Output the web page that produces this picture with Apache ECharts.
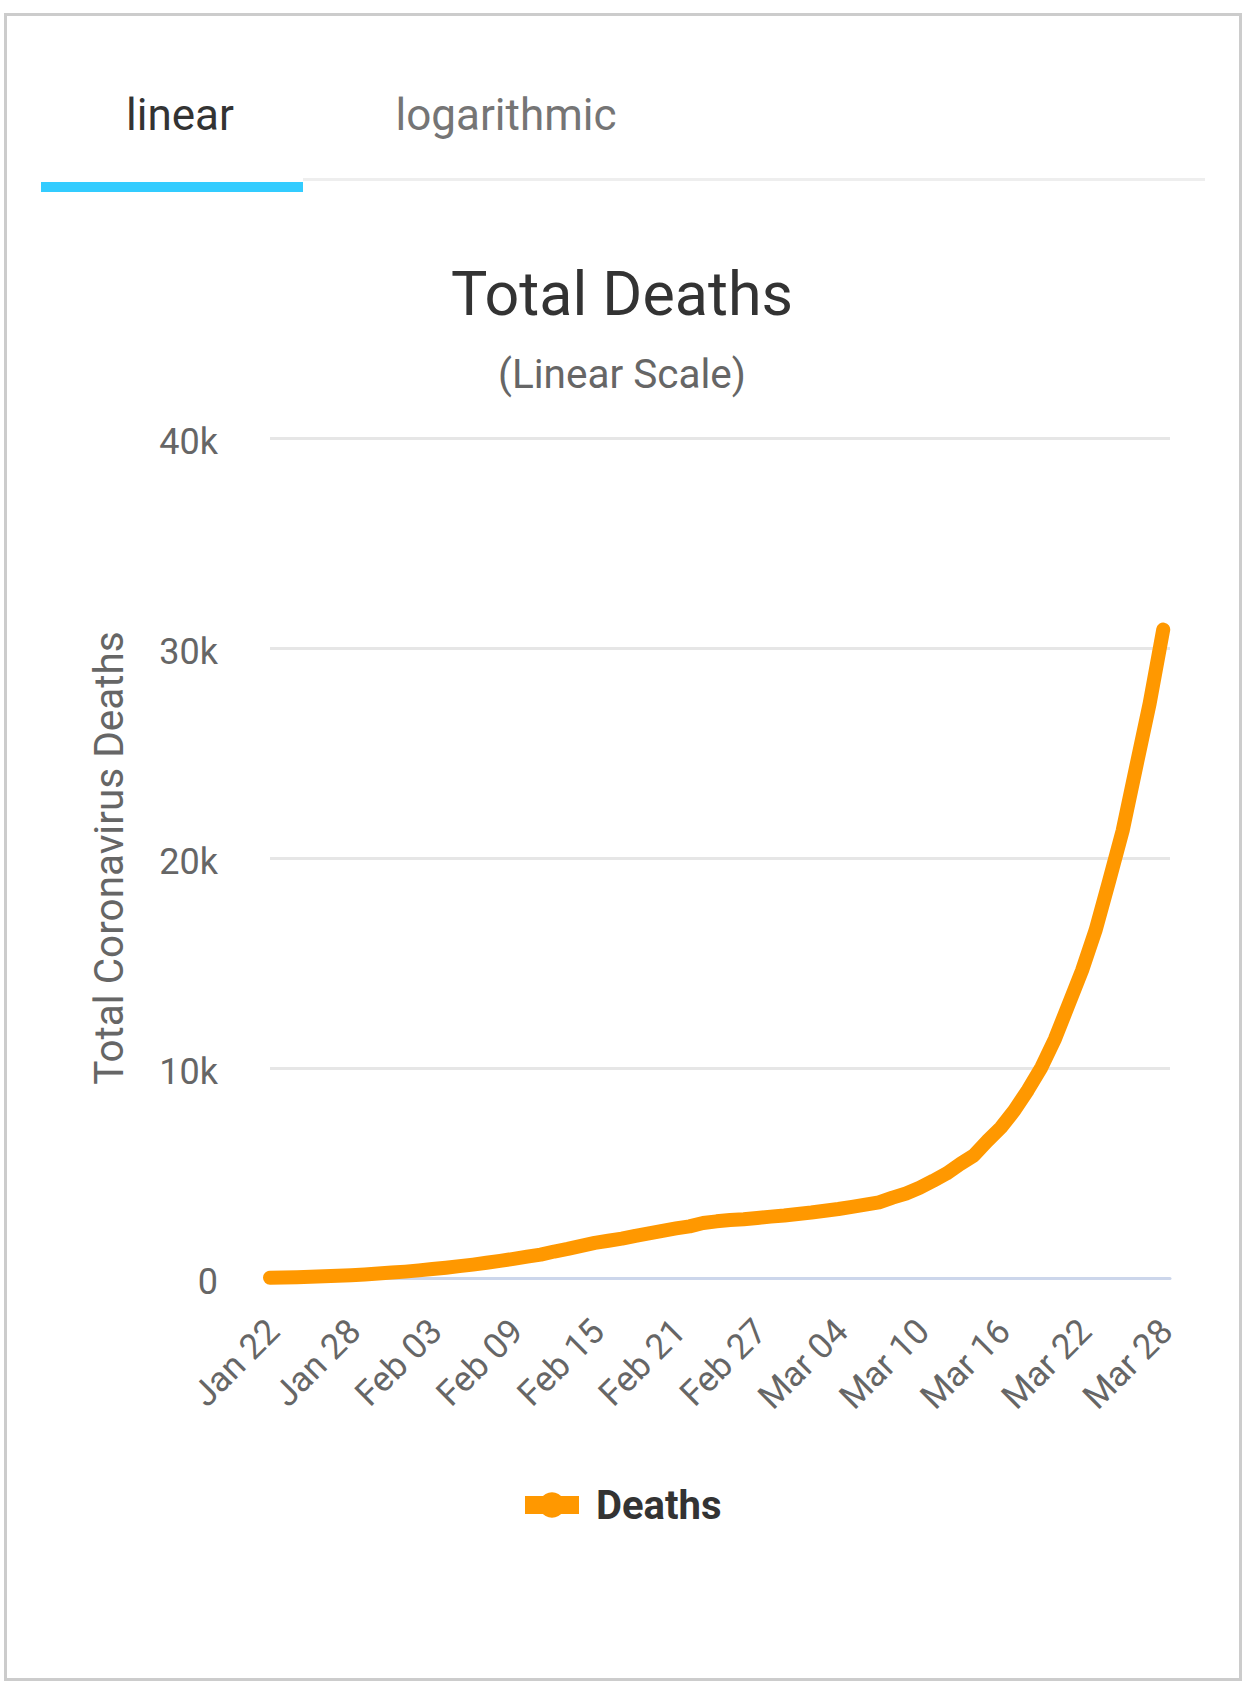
<!DOCTYPE html>
<html>
<head>
<meta charset="utf-8">
<script src="https://cdn.jsdelivr.net/npm/echarts@6/dist/echarts.min.js"></script>
<style>
html,body{margin:0;padding:0;background:#fff;}
#card{position:absolute;left:4px;top:13px;width:1238px;height:1668px;border:3px solid #ccc;box-sizing:border-box;}
#chart{position:absolute;left:0;top:0;width:1257px;height:1694px;}
</style>
</head>
<body>
<div id="card"></div>
<div id="chart"></div>
<script>
const dates = [
  'Jan 22','Jan 23','Jan 24','Jan 25','Jan 26','Jan 27','Jan 28','Jan 29','Jan 30','Jan 31',
  'Feb 01','Feb 02','Feb 03','Feb 04','Feb 05','Feb 06','Feb 07','Feb 08','Feb 09','Feb 10',
  'Feb 11','Feb 12','Feb 13','Feb 14','Feb 15','Feb 16','Feb 17','Feb 18','Feb 19','Feb 20',
  'Feb 21','Feb 22','Feb 23','Feb 24','Feb 25','Feb 26','Feb 27','Feb 28','Feb 29',
  'Mar 01','Mar 02','Mar 03','Mar 04','Mar 05','Mar 06','Mar 07','Mar 08','Mar 09','Mar 10',
  'Mar 11','Mar 12','Mar 13','Mar 14','Mar 15','Mar 16','Mar 17','Mar 18','Mar 19','Mar 20',
  'Mar 21','Mar 22','Mar 23','Mar 24','Mar 25','Mar 26','Mar 27','Mar 28'
];
const deaths = [
  17, 25, 41, 56, 80, 106, 132, 170, 213, 259,
  304, 362, 426, 492, 565, 638, 724, 813, 910, 1018,
  1115, 1261, 1383, 1526, 1669, 1775, 1873, 2009, 2126, 2247,
  2360, 2460, 2618, 2699, 2763, 2800, 2858, 2923, 2977,
  3050, 3117, 3202, 3285, 3387, 3494, 3599, 3827, 4025, 4296,
  4628, 4981, 5428, 5833, 6520, 7162, 7979, 8951, 10030, 11386,
  13011, 14641, 16558, 18895, 21296, 24347, 27370, 30880
];
const yTickValues = [0, 10000, 20000, 30000, 40000];
const yTickLabels = ['0', '10k', '20k', '30k', '40k'];
const xLabelStep = 6;
const tabLabels = ['linear', 'logarithmic'];
const seriesName = 'Deaths';
const chartTitle = 'Total Deaths';
const chartSubtitle = '(Linear Scale)';
const yAxisTitle = 'Total Coronavirus Deaths';

const FONT = 'Roboto, "Noto Sans", sans-serif';
const chart = echarts.init(document.getElementById('chart'), null, {renderer: 'svg', width: 1257, height: 1694});

const points = deaths.map(function (v, i) { return [i, v]; });

chart.setOption({
  animation: false,
  textStyle: {fontFamily: FONT},
  title: [
    {text: chartTitle, left: 622, top: 263, padding: 0, textAlign: 'center',
     textStyle: {fontSize: 61, fontWeight: 'normal', color: '#333333', fontFamily: FONT, lineHeight: 61}},
    {text: chartSubtitle, left: 622, top: 354, padding: 0, textAlign: 'center',
     textStyle: {fontSize: 40.5, fontWeight: 'normal', color: '#666666', fontFamily: FONT, lineHeight: 40}}
  ],
  graphic: [
    {type: 'text', x: 180, y: 115, style: {text: tabLabels[0], fontSize: 44, fontFamily: FONT, fill: '#333333', align: 'center', verticalAlign: 'middle'}},
    {type: 'text', x: 506, y: 115, style: {text: tabLabels[1], fontSize: 44, fontFamily: FONT, fill: '#757575', align: 'center', verticalAlign: 'middle'}},
    {type: 'rect', shape: {x: 303, y: 178, width: 902, height: 3}, style: {fill: '#eeeeee'}},
    {type: 'rect', shape: {x: 41, y: 182, width: 262, height: 10}, style: {fill: '#33ccff'}}
  ],
  legend: {
    data: [seriesName],
    left: 516, top: 1485, padding: 0,
    itemWidth: 54, itemHeight: 32,
    lineStyle: {width: 18, cap: 'butt'},
    selectedMode: false,
    textStyle: {fontSize: 40, fontWeight: 'bold', color: '#333333', fontFamily: FONT, padding: [0, 0, 0, 12]}
  },
  grid: {left: 270, right: 87, top: 438, bottom: 416, containLabel: false, outerBoundsMode: 'none'},
  xAxis: {
    type: 'value',
    min: 0, max: 66.5, interval: xLabelStep,
    z: 3,
    axisLine: {onZero: false, lineStyle: {color: '#ccd6eb', width: 3}},
    axisTick: {show: false},
    splitLine: {show: false},
    axisLabel: {
      rotate: 45, margin: 44, fontSize: 35, lineHeight: 10, color: '#666666', fontFamily: FONT, verticalAlign: 'top',
      showMinLabel: true, showMaxLabel: false,
      formatter: function (v) { return (Number.isInteger(v) && v % xLabelStep === 0 && dates[v]) ? dates[v] : ''; }
    }
  },
  yAxis: {
    type: 'value',
    min: yTickValues[0], max: yTickValues[yTickValues.length - 1], interval: 10000,
    name: yAxisTitle, nameLocation: 'middle', nameGap: 141,
    nameTextStyle: {fontSize: 40.5, color: '#666666', fontFamily: FONT},
    axisLine: {show: false},
    axisTick: {show: false},
    splitLine: {lineStyle: {color: '#e6e6e6', width: 3}},
    axisLabel: {
      fontSize: 36, lineHeight: 7, verticalAlign: 'top', color: '#666666', fontFamily: FONT, margin: 52,
      formatter: function (v) { const i = yTickValues.indexOf(v); return i >= 0 ? yTickLabels[i] : ''; }
    }
  },
  series: [{
    name: seriesName,
    type: 'line',
    data: points,
    symbol: 'circle',
    showSymbol: false,
    smooth: false,
    lineStyle: {color: '#ff9800', width: 14, cap: 'round', join: 'round'},
    itemStyle: {color: '#ff9800'},
    emphasis: {disabled: true}
  }]
});
</script>
</body>
</html>
